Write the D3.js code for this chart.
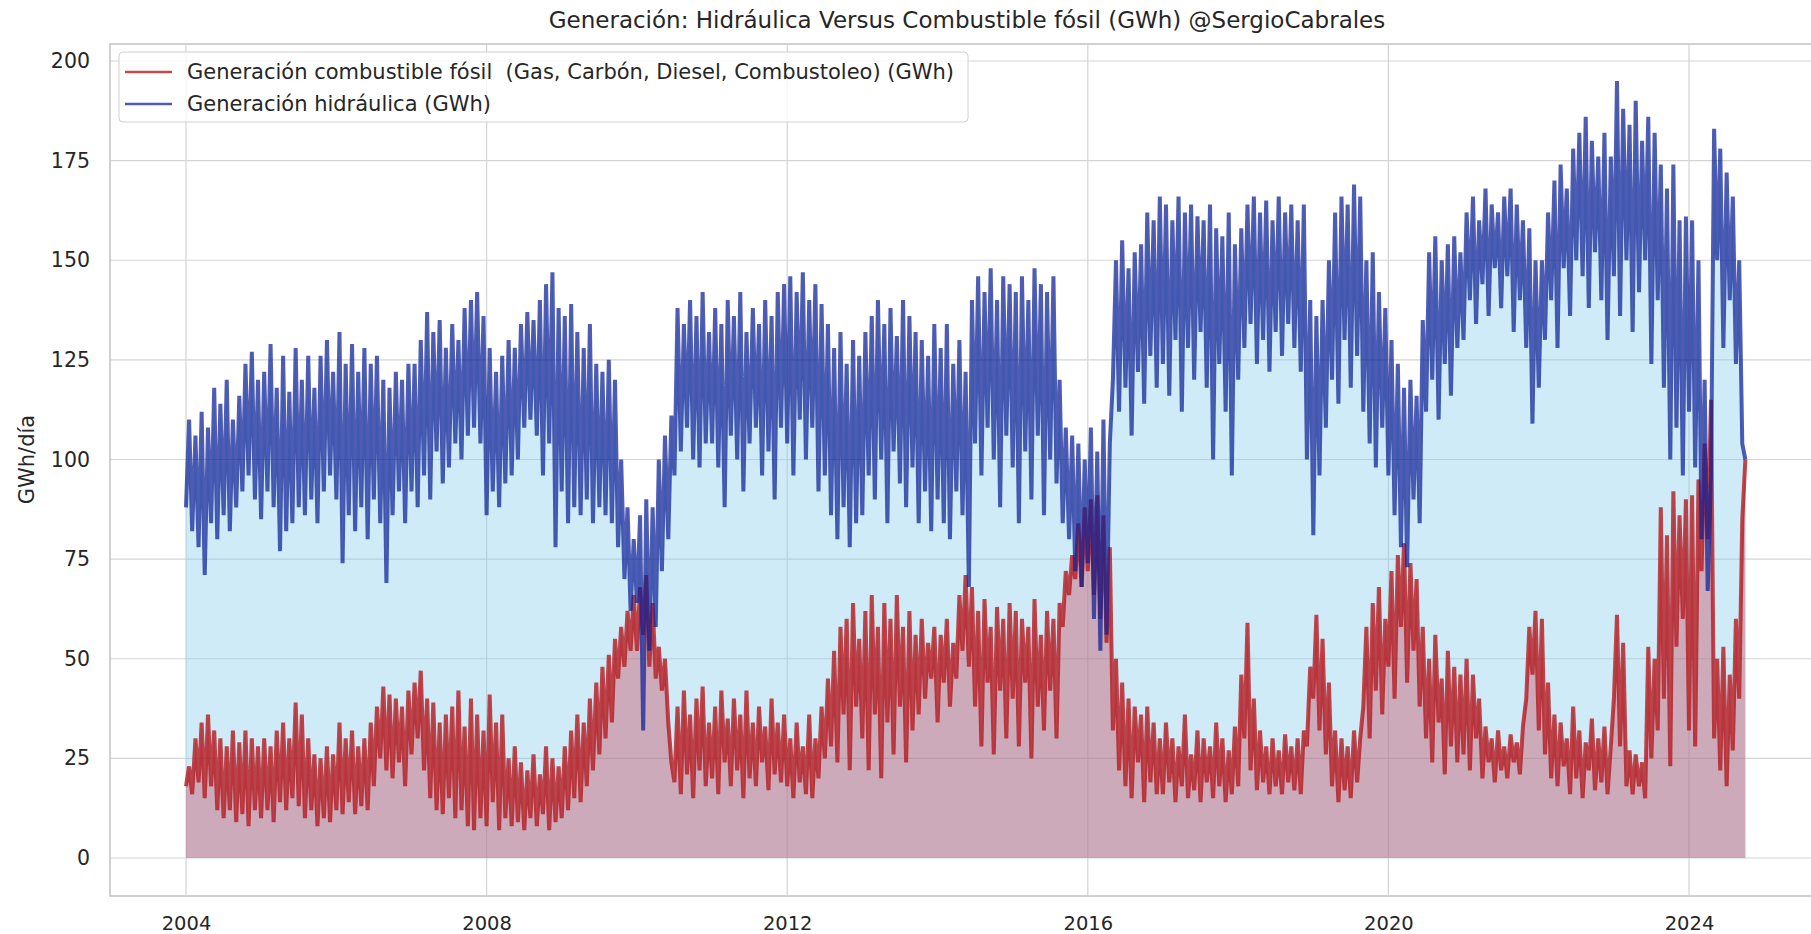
<!DOCTYPE html>
<html>
<head>
<meta charset="utf-8">
<script src="https://cdn.jsdelivr.net/npm/d3@7"></script>
<style>
  html, body { margin: 0; padding: 0; background: #fff; }
  svg text { font-family: "DejaVu Sans", sans-serif; fill: #262626; }
</style>
</head>
<body>
<svg id="chart" width="1811" height="934"></svg>
<script>

// one value every half month, starting 2004-01-01 (24 per year)
var hydro = [
  /* 2004 */ 88,110,82,106,78,112, 71,108,84,118,80,114, 86,120,82,110,88,116, 92,124,96,127,90,120,
  /* 2005 */ 85,122,92,129,88,118, 77,126,82,117,84,128, 88,120,86,126,90,118, 84,126,92,130,96,122,
  /* 2006 */ 90,132,74,124,86,129, 82,122,88,128,80,124, 90,126,84,120,69,118, 86,122,92,120,84,124,
  /* 2007 */ 92,124,88,130,96,137, 90,132,102,135,94,128, 98,134,104,130,100,138, 106,140,108,142,104,136,
  /* 2008 */ 86,128,92,122,88,126, 94,130,96,128,100,134, 108,137,110,135,106,140, 96,144,104,147,78,138,
  /* 2009 */ 92,136,84,139,88,132, 86,128,90,134,84,124, 88,122,86,125,84,120, 78,100,70,88,62,80,
  /* 2010 */ 64,86,32,90,52,88, 58,100,72,106,80,111, 96,138,102,134,108,140, 100,136,98,142,104,132,
  /* 2011 */ 104,138,98,134,88,140, 106,136,100,142,92,132, 104,138,108,134,96,140, 102,136,90,142,108,144,
  /* 2012 */ 104,146,96,142,110,147, 100,140,108,144,92,139, 96,134,86,128,80,132, 88,124,78,130,84,126,
  /* 2013 */ 86,132,96,136,90,140, 100,134,84,138,102,131, 94,140,88,136,98,132, 84,130,92,126,82,134,
  /* 2014 */ 90,128,84,134,80,124, 92,130,86,122,68,140, 104,146,96,142,108,148, 100,140,88,146,106,144,
  /* 2015 */ 98,142,84,146,102,140, 90,148,106,144,86,142, 100,146,94,120,84,108, 80,106,72,104,68,100,
  /* 2016 */ 74,108,60,102,52,110, 56,104,120,150,112,155, 118,148,106,152,122,154, 114,162,126,160,118,166,
  /* 2017 */ 124,164,116,160,130,166, 112,162,128,164,120,161, 132,160,118,164,100,158, 124,156,112,162,96,154,
  /* 2018 */ 120,158,128,164,134,166, 124,162,130,165,122,160, 132,166,126,162,134,164, 128,160,122,164,100,140,
  /* 2019 */ 81,136,96,140,108,150, 120,162,114,166,130,164, 118,169,126,166,112,150, 104,152,98,142,108,138,
  /* 2020 */ 96,130,86,124,78,118, 73,120,90,116,84,135, 112,152,120,156,110,150, 124,154,116,156,128,152,
  /* 2021 */ 130,162,140,166,134,160, 144,168,136,164,148,162, 138,166,146,168,132,164, 140,160,128,158,109,150,
  /* 2022 */ 118,150,130,162,140,170, 128,174,148,168,136,178, 150,182,146,186,138,180, 152,176,140,182,130,176,
  /* 2023 */ 146,195,136,188,150,184, 132,190,142,180,150,186, 124,182,140,174,118,168, 100,174,108,160,96,161,
  /* 2024 */ 112,160,98,150,80,120, 67,96,183,150,178,128, 172,140,166,124,150,104,100
];

var fossil = [
  /* 2004 */ 18,23,16,30,19,34, 15,36,18,32,12,30, 10,28,12,32,9,29, 11,32,8,30,12,28,
  /* 2005 */ 10,30,12,28,9,32, 14,34,12,30,15,39, 13,36,10,30,12,26, 8,25,10,28,9,26,
  /* 2006 */ 12,34,11,30,14,32, 11,28,13,30,12,34, 18,38,25,43,22,41, 20,40,24,38,18,42,
  /* 2007 */ 26,44,30,47,22,40, 15,39,12,34,11,36, 15,38,10,42,12,33, 8,40,7,36,10,32,
  /* 2008 */ 8,41,14,34,7,36, 10,25,8,28,9,24, 7,22,10,26,8,21, 11,28,7,25,9,23,
  /* 2009 */ 10,28,12,32,15,36, 14,34,18,40,22,44, 26,48,30,51,34,55, 45,58,48,62,52,66,
  /* 2010 */ 52,68,56,71,48,64, 45,53,42,50,34,24, 19,38,16,42,21,36, 15,40,22,43,18,34,
  /* 2011 */ 20,38,16,42,24,35, 18,40,22,36,15,42, 20,34,18,38,24,33, 17,40,21,34,19,36,
  /* 2012 */ 18,30,15,34,19,28, 16,36,15,30,20,38, 25,45,28,52,24,58, 36,60,22,64,38,55,
  /* 2013 */ 30,62,22,66,36,58, 20,64,34,60,26,66, 38,58,24,62,32,56, 36,60,40,54,45,58,
  /* 2014 */ 34,56,44,60,38,54, 45,66,52,71,48,68, 38,62,28,65,44,58, 26,63,42,60,30,64,
  /* 2015 */ 40,62,28,60,44,58, 25,65,38,56,32,62, 42,60,30,64,58,72, 66,76,70,84,68,88,
  /* 2016 */ 72,90,66,91,60,86, 54,78,32,50,22,44, 18,40,15,38,24,36, 14,38,19,34,16,30,
  /* 2017 */ 16,34,19,30,14,28, 18,36,15,26,17,32, 14,30,19,28,15,34, 18,30,14,27,16,33,
  /* 2018 */ 18,46,30,59,22,40, 17,32,19,28,16,30, 18,27,16,31,19,28, 17,30,16,32,28,48,
  /* 2019 */ 40,61,32,55,26,44, 18,32,14,30,17,28, 15,32,19,30,38,58, 30,64,42,68,36,60,
  /* 2020 */ 48,72,40,76,58,79, 44,74,52,70,38,58, 30,50,24,56,34,45, 21,52,28,48,24,46,
  /* 2021 */ 26,50,22,46,30,40, 20,33,24,30,19,32, 22,28,20,31,24,29, 21,33,40,58,46,62,
  /* 2022 */ 32,60,26,44,20,36, 18,34,23,30,16,38, 20,32,15,29,22,35, 17,30,19,33,16,28,
  /* 2023 */ 40,61,28,54,18,27, 16,26,18,24,15,53, 25,50,32,88,40,81, 23,92,53,86,60,90,
  /* 2024 */ 32,91,28,95,72,104, 80,115,30,50,22,53, 18,46,27,60,40,85,100
];

var yearTicks = [2004, 2008, 2012, 2016, 2020, 2024];
var yTicks = [0, 25, 50, 75, 100, 125, 150, 175, 200];

var seriesNames = [
  'Generación combustible fósil  (Gas, Carbón, Diesel, Combustoleo) (GWh)',
  'Generación hidráulica (GWh)'
];

function main() {
  'use strict';

  var svg = d3.select('#chart');

  // plot frame (matplotlib axes box, cut at the right edge of the picture)
  var left = 110, right = 1825, top = 44, bottom = 896;

  var start = new Date(2004, 0, 1);
  var dates = hydro.map(function (d, i) {
    return d3.timeDay.offset(start, Math.round(i * 365.25 / 24));
  });

  var x = d3.scaleTime()
    .domain([new Date(2004, 0, 1), new Date(2024, 0, 1)])
    .range([186, 1689]);

  var y = d3.scaleLinear()
    .domain([0, 200])
    .range([858, 61]);

  /*====================================
  Grid
  ======================================*/

  var grid = svg.append('g');

  grid.selectAll('line.h')
    .data(yTicks)
    .enter().append('line')
    .attr('x1', left).attr('x2', right)
    .attr('y1', function (d) { return y(d); })
    .attr('y2', function (d) { return y(d); })
    .attr('stroke', '#d4d4d4').attr('stroke-width', 1.2);

  grid.selectAll('line.v')
    .data(yearTicks)
    .enter().append('line')
    .attr('y1', top).attr('y2', bottom)
    .attr('x1', function (d) { return x(new Date(d, 0, 1)); })
    .attr('x2', function (d) { return x(new Date(d, 0, 1)); })
    .attr('stroke', '#d4d4d4').attr('stroke-width', 1.2);

  /*====================================
  Filled areas
  ======================================*/

  var area = d3.area()
    .x(function (d, i) { return x(dates[i]); })
    .y0(y(0))
    .y1(function (d) { return y(d); });

  svg.append('path')
    .datum(hydro)
    .attr('d', area)
    .attr('fill', 'rgb(135,206,235)')
    .attr('fill-opacity', 0.4);

  svg.append('path')
    .datum(fossil)
    .attr('d', area)
    .attr('fill', 'rgb(200,80,100)')
    .attr('fill-opacity', 0.42);

  /*====================================
  Lines
  ======================================*/

  var line = d3.line()
    .x(function (d, i) { return x(dates[i]); })
    .y(function (d) { return y(d); });

  var red = 'rgb(180,20,25)', blue = 'rgb(10,30,150)';

  svg.append('path')
    .datum(fossil)
    .attr('d', line)
    .attr('fill', 'none')
    .attr('stroke', red)
    .attr('stroke-opacity', 0.78)
    .attr('stroke-width', 4);

  svg.append('path')
    .datum(hydro)
    .attr('d', line)
    .attr('fill', 'none')
    .attr('stroke', blue)
    .attr('stroke-opacity', 0.72)
    .attr('stroke-width', 4);

  // frame on top of the fills
  svg.append('rect')
    .attr('x', left).attr('y', top)
    .attr('width', right - left).attr('height', bottom - top)
    .attr('fill', 'none')
    .attr('stroke', '#cccccc').attr('stroke-width', 1.8);

  /*====================================
  Axes
  ======================================*/

  var xAxis = d3.axisBottom(x)
    .tickValues(yearTicks.map(function (d) { return new Date(d, 0, 1); }))
    .tickFormat(d3.timeFormat('%Y'))
    .tickSize(0).tickPadding(20);

  var gx = svg.append('g')
    .attr('transform', 'translate(0,' + bottom + ')')
    .call(xAxis);
  gx.select('.domain').remove();
  gx.selectAll('text').style('font-size', '19.5px').attr('fill', '#262626');

  var yAxis = d3.axisLeft(y)
    .tickValues(yTicks)
    .tickSize(0).tickPadding(20);

  var gy = svg.append('g')
    .attr('transform', 'translate(' + left + ',0)')
    .call(yAxis);
  gy.select('.domain').remove();
  gy.selectAll('text').style('font-size', '20.5px').attr('fill', '#262626');

  svg.append('text')
    .attr('transform', 'translate(34,' + y(100) + ') rotate(-90)')
    .attr('text-anchor', 'middle')
    .style('font-size', '21px')
    .text('GWh/día');

  svg.append('text')
    .attr('x', 967).attr('y', 28)
    .attr('text-anchor', 'middle')
    .style('font-size', '23px')
    .text('Generación: Hidráulica Versus Combustible fósil (GWh) @SergioCabrales');

  /*====================================
  Legend
  ======================================*/

  var legend = svg.append('g');

  legend.append('rect')
    .attr('x', 119).attr('y', 52)
    .attr('width', 849).attr('height', 70)
    .attr('rx', 4)
    .attr('fill', '#fff').attr('fill-opacity', 0.8)
    .attr('stroke', '#d0d0d0').attr('stroke-width', 1);

  var legendColors = [[red, 0.78], [blue, 0.72]];

  seriesNames.forEach(function (name, i) {
    var ly = 72 + i * 32;
    legend.append('line')
      .attr('x1', 125).attr('x2', 172)
      .attr('y1', ly).attr('y2', ly)
      .attr('stroke', legendColors[i][0])
      .attr('stroke-opacity', legendColors[i][1])
      .attr('stroke-width', 2.6);
    legend.append('text')
      .attr('x', 187).attr('y', ly + 7)
      .style('font-size', '21px')
      .style('white-space', 'pre')
      .text(name);
  });
}
main();

</script>
</body>
</html>
